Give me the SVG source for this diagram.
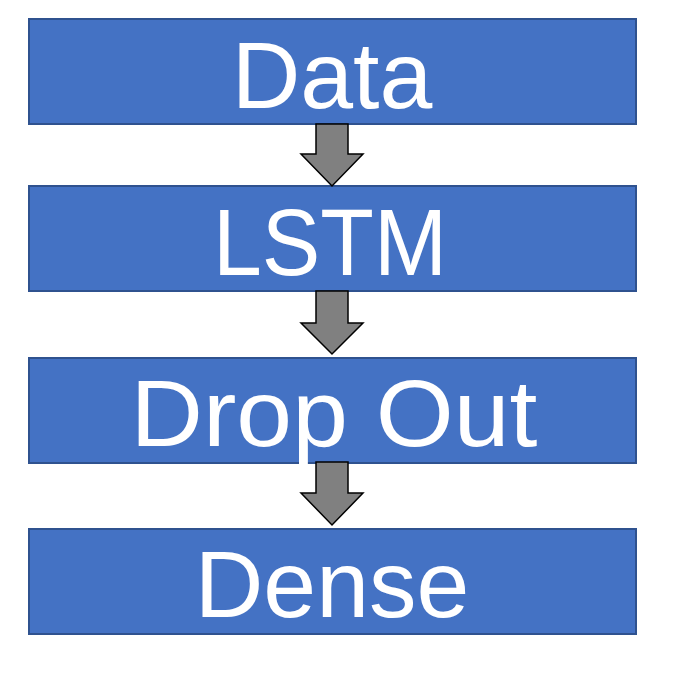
<svg xmlns="http://www.w3.org/2000/svg" width="685" height="686" viewBox="0 0 685 686">
<style>
.box{fill:#4472C4;stroke:#2F528F;stroke-width:2}
.lbl{fill:#fff;font-family:"Liberation Sans",Arial,sans-serif;font-size:95px;text-anchor:middle}
.arr{fill:#808080;stroke:#000;stroke-width:1.5;stroke-linejoin:miter}
</style>
<rect width="685" height="686" fill="#fff"/>
<g id="node-data"><rect class="box" x="29" y="19" width="607" height="105"/><text class="lbl" x="332" y="108">Data</text></g>
<g id="node-lstm"><rect class="box" x="29" y="186" width="607" height="105"/><text class="lbl" x="330" y="275" textLength="234" lengthAdjust="spacingAndGlyphs">LSTM</text></g>
<g id="node-dropout"><rect class="box" x="29" y="358" width="607" height="105"/><text class="lbl" x="334" y="446" textLength="407" lengthAdjust="spacingAndGlyphs">Drop Out</text></g>
<g id="node-dense"><rect class="box" x="29" y="529" width="607" height="105"/><text class="lbl" x="332" y="617">Dense</text></g>
<g id="connectors">
<path class="arr" d="M316,124 H348 V154 H363 L332,186 L301,154 H316 Z"/>
<path class="arr" d="M316,291 H348 V323 H363 L332,354 L301,323 H316 Z"/>
<path class="arr" d="M316,462 H348 V493 H363 L332,525 L301,493 H316 Z"/>
</g>
</svg>
